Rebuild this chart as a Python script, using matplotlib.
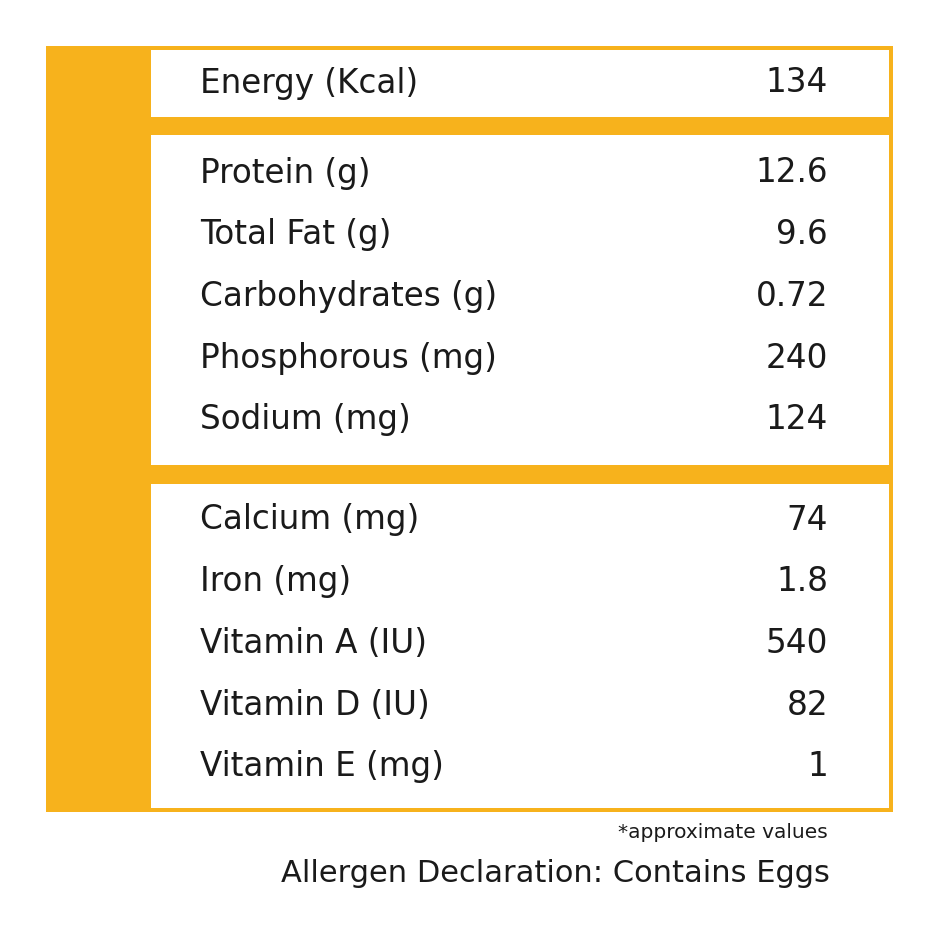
import matplotlib.pyplot as plt
from matplotlib.patches import Rectangle

plt.rcParams["font.family"] = ["DejaVu Sans"]

ORANGE = "#F7B21C"

# groups of nutrient rows (label, value)
group1_labels = ["Energy (Kcal)"]
group1_values = ["134"]
group2_labels = ["Protein (g)", "Total Fat (g)", "Carbohydrates (g)", "Phosphorous (mg)", "Sodium (mg)"]
group2_values = ["12.6", "9.6", "0.72", "240", "124"]
group3_labels = ["Calcium (mg)", "Iron (mg)", "Vitamin A (IU)", "Vitamin D (IU)", "Vitamin E (mg)"]
group3_values = ["74", "1.8", "540", "82", "1"]
footnote = "*approximate values"
allergen = "Allergen Declaration: Contains Eggs"

fig = plt.figure(figsize=(9.4, 9.4), dpi=100)
ax = fig.add_axes([0, 0, 1, 1])
ax.set_xlim(0, 940)
ax.set_ylim(940, 0)
ax.axis("off")

# orange backdrop and white panels
ax.add_patch(Rectangle((46, 46), 847, 766, color=ORANGE, lw=0))
for y0, y1 in [(50, 117), (135, 465), (484, 808)]:
    ax.add_patch(Rectangle((151, y0), 738, y1 - y0, color="white", lw=0))

row_step = 61.7
for labels, values, y_start in [
    (group1_labels, group1_values, 83),
    (group2_labels, group2_values, 173),
    (group3_labels, group3_values, 520),
]:
    for i, (lab, val) in enumerate(zip(labels, values)):
        y = y_start + i * row_step
        ax.text(200, y, lab, fontsize=23.5, va="center", ha="left", color="#1a1a1a")
        ax.text(828, y, val, fontsize=23.5, va="center", ha="right", color="#1a1a1a")

ax.text(828, 833, footnote, fontsize=14.5, va="center", ha="right", color="#1a1a1a")
ax.text(830, 874, allergen, fontsize=22, va="center", ha="right", color="#1a1a1a")

fig.savefig("out.png", dpi=100, facecolor="white")
